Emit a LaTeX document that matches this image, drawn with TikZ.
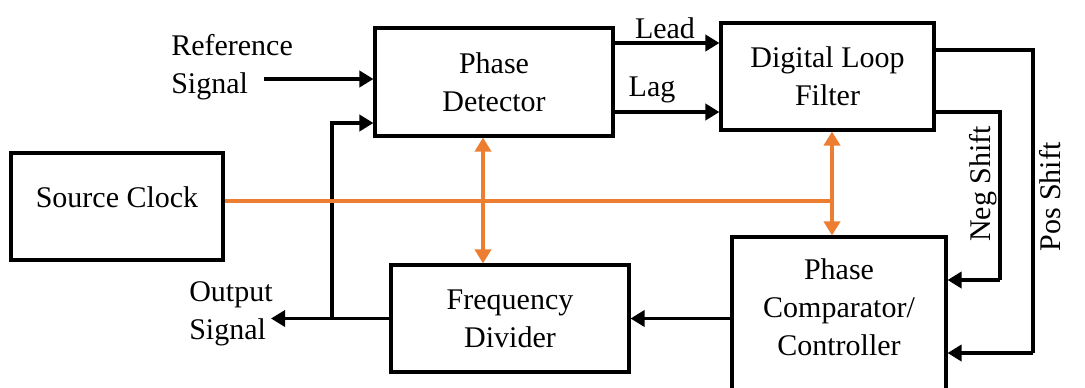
\documentclass[tikz,border=0pt]{standalone}
\usepackage{fontspec}
\setmainfont{Liberation Serif}
\usetikzlibrary{arrows.meta}
\tikzset{
  >={Triangle[length=10.5pt,width=12pt]},
  blk/.style={draw, line width=2.3pt, inner sep=0pt, align=center, font=\fontsize{22.5}{28.5}\selectfont},
  lbl/.style={inner sep=0.75pt, font=\fontsize{22.5}{28.5}\selectfont},
  sig/.style={line width=2.8pt, ->},
  wire/.style={line width=2.8pt},
  clk/.style={color={rgb, 255:red, 237; green, 125; blue, 49 }, line width=2.6pt},
}
\begin{document}
\begin{tikzpicture}[x=0.75pt,y=0.75pt,yscale=-1,xscale=1]
\useasboundingbox (0,0) rectangle (1085,387);
\clip (0,0) rectangle (1085,387);
%Shape: Rectangle
\draw (117,206.5) node (sclk) [blk, minimum width=159pt, minimum height=80.25pt] {};
%Shape: Rectangle
\draw (494,82) node (pd) [blk, minimum width=178.5pt, minimum height=81pt] {Phase\\Detector};
%Shape: Rectangle
\draw (827.5,76.5) node (dlf) [blk, minimum width=159.75pt, minimum height=80.25pt] {Digital Loop\\Filter};
%Shape: Rectangle
\draw (510,318.5) node (fd) [blk, minimum width=178.5pt, minimum height=80.25pt] {Frequency\\Divider};
%Shape: Rectangle
\draw (839,318.5) node (pcc) [blk, minimum width=160.5pt, minimum height=122.25pt] {};

%Levels of the connectors
\coordinate (ylead) at (0,43);
\coordinate (ypos) at (0,50);
\coordinate (yref) at (0,79);
\coordinate (ylag) at (0,112);
\coordinate (yfb) at (0,123);
\coordinate (tapA) at (483,201);
\coordinate (tapB) at (832,201);
\coordinate (refin) at (264,79);
\coordinate (fbk) at (332,318.5);
\coordinate (outtip) at (271,318.5);
\coordinate (negc) at (1000,280);
\coordinate (posc) at (1033,353);

%Straight Lines
\draw [sig] (refin) -- (refin -| pd.west);
\draw [sig] (pd.east |- ylead) -- (dlf.west |- ylead);
\draw [sig] (pd.east |- ylag) -- (dlf.west |- ylag);
\draw [sig] (fd.west) -- (outtip);
\draw [sig] (fbk) |- (pd.west |- yfb);
\draw [sig] (pcc.west) -- (fd.east);
\draw [wire] (dlf.east |- ylag) -| (negc);
\draw [sig] (negc) -- (negc -| pcc.east);
\draw [wire] (dlf.east |- ypos) -| (posc);
\draw [sig] (posc) -- (posc -| pcc.east);

%Clock lines
\draw [clk] (sclk.east |- tapA) -- (tapB);
\draw [clk, <->] (tapA |- pd.south) -- (tapA |- fd.north);
\draw [clk, <->] (tapB |- dlf.south) -- (tapB |- pcc.north);

% Text Node
\draw (117,197) node (sclktxt) [lbl] {Source Clock};
% Text Node
\draw (839,307) node (pcctxt) [lbl, align=center] {Phase\\Comparator/\\Controller};
% Text Node
\draw (170,67) node (refsig) [lbl, anchor=west, align=left] {Reference\\Signal};
% Text Node
\draw (188,314) node (outsig) [lbl, anchor=west, align=left] {Output\\Signal};
% Text Node
\draw (665,28) node (lead) [lbl] {Lead};
% Text Node
\draw (652,90) node (lag) [lbl] {Lag};
% Text Node
\draw (983,184) node (neg) [lbl, rotate=90] {Neg Shift};
% Text Node
\draw (1050,197) node (pos) [lbl, rotate=90] {Pos Shift};

\end{tikzpicture}
\end{document}
